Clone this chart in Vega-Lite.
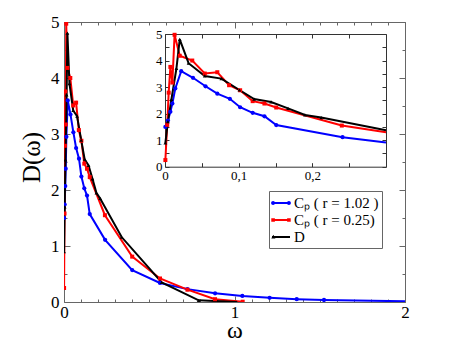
{
  "$schema": "https://vega.github.io/schema/vega-lite/v6.json",
  "width": 341,
  "height": 280,
  "autosize": "none",
  "padding": {"left": 64, "top": 22, "right": 52, "bottom": 51},
  "background": "white",
  "config": {
    "view": {"stroke": null},
    "font": "Liberation Serif",
    "axis": {"grid": false, "labelFont": "Liberation Serif", "titleFont": "Liberation Serif", "labelColor": "black", "titleColor": "black", "titleFontWeight": "normal", "labelFlush": false, "labelOverlap": false}
  },
  "datasets": {
    "curves": [
      {"series": "Cₚ ( r = 1.02 )", "w": 0.0005, "D": 1.5},
      {"series": "Cₚ ( r = 1.02 )", "w": 0.004, "D": 1.74},
      {"series": "Cₚ ( r = 1.02 )", "w": 0.0073, "D": 2.07},
      {"series": "Cₚ ( r = 1.02 )", "w": 0.010, "D": 2.38},
      {"series": "Cₚ ( r = 1.02 )", "w": 0.014, "D": 2.95},
      {"series": "Cₚ ( r = 1.02 )", "w": 0.022, "D": 3.6},
      {"series": "Cₚ ( r = 1.02 )", "w": 0.038, "D": 3.35},
      {"series": "Cₚ ( r = 1.02 )", "w": 0.055, "D": 3.03},
      {"series": "Cₚ ( r = 1.02 )", "w": 0.071, "D": 2.75},
      {"series": "Cₚ ( r = 1.02 )", "w": 0.088, "D": 2.56},
      {"series": "Cₚ ( r = 1.02 )", "w": 0.102, "D": 2.24},
      {"series": "Cₚ ( r = 1.02 )", "w": 0.119, "D": 2.03},
      {"series": "Cₚ ( r = 1.02 )", "w": 0.135, "D": 1.9},
      {"series": "Cₚ ( r = 1.02 )", "w": 0.151, "D": 1.57},
      {"series": "Cₚ ( r = 1.02 )", "w": 0.241, "D": 1.11},
      {"series": "Cₚ ( r = 1.02 )", "w": 0.40, "D": 0.57},
      {"series": "Cₚ ( r = 1.02 )", "w": 0.563, "D": 0.34},
      {"series": "Cₚ ( r = 1.02 )", "w": 0.724, "D": 0.23},
      {"series": "Cₚ ( r = 1.02 )", "w": 0.886, "D": 0.155},
      {"series": "Cₚ ( r = 1.02 )", "w": 1.046, "D": 0.108},
      {"series": "Cₚ ( r = 1.02 )", "w": 1.206, "D": 0.074},
      {"series": "Cₚ ( r = 1.02 )", "w": 1.365, "D": 0.05},
      {"series": "Cₚ ( r = 1.02 )", "w": 1.525, "D": 0.036},
      {"series": "Cₚ ( r = 1.02 )", "w": 2.05, "D": 0.01},
      {"series": "Cₚ ( r = 0.25)", "w": 0.0005, "D": 0.25},
      {"series": "Cₚ ( r = 0.25)", "w": 0.003, "D": 1.58},
      {"series": "Cₚ ( r = 0.25)", "w": 0.005, "D": 2.79},
      {"series": "Cₚ ( r = 0.25)", "w": 0.0073, "D": 3.76},
      {"series": "Cₚ ( r = 0.25)", "w": 0.010, "D": 3.17},
      {"series": "Cₚ ( r = 0.25)", "w": 0.013, "D": 4.97},
      {"series": "Cₚ ( r = 0.25)", "w": 0.020, "D": 4.18},
      {"series": "Cₚ ( r = 0.25)", "w": 0.037, "D": 4.0},
      {"series": "Cₚ ( r = 0.25)", "w": 0.054, "D": 3.51},
      {"series": "Cₚ ( r = 0.25)", "w": 0.071, "D": 3.56},
      {"series": "Cₚ ( r = 0.25)", "w": 0.087, "D": 3.07},
      {"series": "Cₚ ( r = 0.25)", "w": 0.102, "D": 2.88},
      {"series": "Cₚ ( r = 0.25)", "w": 0.119, "D": 2.47},
      {"series": "Cₚ ( r = 0.25)", "w": 0.135, "D": 2.38},
      {"series": "Cₚ ( r = 0.25)", "w": 0.151, "D": 2.23},
      {"series": "Cₚ ( r = 0.25)", "w": 0.240, "D": 1.55},
      {"series": "Cₚ ( r = 0.25)", "w": 0.40, "D": 0.81},
      {"series": "Cₚ ( r = 0.25)", "w": 0.563, "D": 0.42},
      {"series": "Cₚ ( r = 0.25)", "w": 0.724, "D": 0.22},
      {"series": "Cₚ ( r = 0.25)", "w": 0.886, "D": 0.05},
      {"series": "Cₚ ( r = 0.25)", "w": 1.048, "D": 0.005},
      {"series": "D", "w": 0.0005, "D": 0.9},
      {"series": "D", "w": 0.004, "D": 1.7},
      {"series": "D", "w": 0.0087, "D": 2.54},
      {"series": "D", "w": 0.0155, "D": 3.7},
      {"series": "D", "w": 0.020, "D": 4.8},
      {"series": "D", "w": 0.032, "D": 3.9},
      {"series": "D", "w": 0.054, "D": 3.42},
      {"series": "D", "w": 0.0765, "D": 3.32},
      {"series": "D", "w": 0.101, "D": 2.89},
      {"series": "D", "w": 0.121, "D": 2.55},
      {"series": "D", "w": 0.144, "D": 2.44},
      {"series": "D", "w": 0.167, "D": 2.2},
      {"series": "D", "w": 0.19, "D": 1.95},
      {"series": "D", "w": 0.212, "D": 1.85},
      {"series": "D", "w": 0.338, "D": 1.16},
      {"series": "D", "w": 0.573, "D": 0.35},
      {"series": "D", "w": 0.79, "D": 0.03},
      {"series": "D", "w": 1.013, "D": 0.0}
    ],
    "insetLines": [
      {"series": "Cₚ ( r = 1.02 )", "w": 0.0005, "D": 1.5},
      {"series": "Cₚ ( r = 1.02 )", "w": 0.004, "D": 1.74},
      {"series": "Cₚ ( r = 1.02 )", "w": 0.0073, "D": 2.07},
      {"series": "Cₚ ( r = 1.02 )", "w": 0.010, "D": 2.38},
      {"series": "Cₚ ( r = 1.02 )", "w": 0.014, "D": 2.95},
      {"series": "Cₚ ( r = 1.02 )", "w": 0.022, "D": 3.6},
      {"series": "Cₚ ( r = 1.02 )", "w": 0.038, "D": 3.35},
      {"series": "Cₚ ( r = 1.02 )", "w": 0.055, "D": 3.03},
      {"series": "Cₚ ( r = 1.02 )", "w": 0.071, "D": 2.75},
      {"series": "Cₚ ( r = 1.02 )", "w": 0.088, "D": 2.56},
      {"series": "Cₚ ( r = 1.02 )", "w": 0.102, "D": 2.24},
      {"series": "Cₚ ( r = 1.02 )", "w": 0.119, "D": 2.03},
      {"series": "Cₚ ( r = 1.02 )", "w": 0.135, "D": 1.9},
      {"series": "Cₚ ( r = 1.02 )", "w": 0.151, "D": 1.57},
      {"series": "Cₚ ( r = 1.02 )", "w": 0.241, "D": 1.11},
      {"series": "Cₚ ( r = 1.02 )", "w": 0.3, "D": 0.91},
      {"series": "Cₚ ( r = 0.25)", "w": 0.0005, "D": 0.25},
      {"series": "Cₚ ( r = 0.25)", "w": 0.003, "D": 1.58},
      {"series": "Cₚ ( r = 0.25)", "w": 0.005, "D": 2.79},
      {"series": "Cₚ ( r = 0.25)", "w": 0.0073, "D": 3.76},
      {"series": "Cₚ ( r = 0.25)", "w": 0.010, "D": 3.17},
      {"series": "Cₚ ( r = 0.25)", "w": 0.013, "D": 4.97},
      {"series": "Cₚ ( r = 0.25)", "w": 0.020, "D": 4.18},
      {"series": "Cₚ ( r = 0.25)", "w": 0.037, "D": 4.0},
      {"series": "Cₚ ( r = 0.25)", "w": 0.054, "D": 3.51},
      {"series": "Cₚ ( r = 0.25)", "w": 0.071, "D": 3.56},
      {"series": "Cₚ ( r = 0.25)", "w": 0.087, "D": 3.07},
      {"series": "Cₚ ( r = 0.25)", "w": 0.102, "D": 2.88},
      {"series": "Cₚ ( r = 0.25)", "w": 0.119, "D": 2.47},
      {"series": "Cₚ ( r = 0.25)", "w": 0.135, "D": 2.38},
      {"series": "Cₚ ( r = 0.25)", "w": 0.151, "D": 2.23},
      {"series": "Cₚ ( r = 0.25)", "w": 0.240, "D": 1.55},
      {"series": "Cₚ ( r = 0.25)", "w": 0.3, "D": 1.3},
      {"series": "D", "w": 0.0005, "D": 0.9},
      {"series": "D", "w": 0.004, "D": 1.7},
      {"series": "D", "w": 0.0087, "D": 2.54},
      {"series": "D", "w": 0.0155, "D": 3.7},
      {"series": "D", "w": 0.020, "D": 4.8},
      {"series": "D", "w": 0.032, "D": 3.9},
      {"series": "D", "w": 0.054, "D": 3.42},
      {"series": "D", "w": 0.0765, "D": 3.32},
      {"series": "D", "w": 0.101, "D": 2.89},
      {"series": "D", "w": 0.121, "D": 2.55},
      {"series": "D", "w": 0.144, "D": 2.44},
      {"series": "D", "w": 0.167, "D": 2.2},
      {"series": "D", "w": 0.19, "D": 1.95},
      {"series": "D", "w": 0.212, "D": 1.85},
      {"series": "D", "w": 0.3, "D": 1.37}
    ]
  },
  "layer": [
    {
      "data": {"name": "curves"},
      "encoding": {
        "x": {"field": "w", "type": "quantitative", "scale": {"domain": [0, 2]},
          "axis": {
            "values": [0,0.1,0.2,0.3,0.4,0.5,0.6,0.7,0.8,0.9,1,1.1,1.2,1.3,1.4,1.5,1.6,1.7,1.8,1.9,2],
            "tickSize": {"condition": {"test": "abs(datum.value-round(datum.value))<1e-6", "value": -6}, "value": -3},
            "labelExpr": "abs(datum.value-round(datum.value))<1e-6 ? format(datum.value,'d') : ''",
            "labelPadding": 8, "labelFontSize": 17,
            "domainColor": "#666", "tickColor": "#666",
            "title": "ω", "titleFontSize": 24, "titleY": 35, "titleBaseline": "alphabetic"
          }},
        "y": {"field": "D", "type": "quantitative", "scale": {"domain": [0, 5]},
          "axis": {
            "values": [0,0.5,1,1.5,2,2.5,3,3.5,4,4.5,5],
            "tickSize": {"condition": {"test": "abs(datum.value-round(datum.value))<1e-6", "value": -6}, "value": -3},
            "labelExpr": "abs(datum.value-round(datum.value))<1e-6 ? format(datum.value,'d') : ''",
            "labelPadding": 11, "labelFontSize": 17,
            "domainColor": "#666", "tickColor": "#666",
            "title": "D(ω)", "titleFontSize": 25, "titleX": -25, "titleY": 135, "titleBaseline": "alphabetic"
          }}
      },
      "layer": [
        {"mark": {"type": "line", "strokeWidth": 2, "clip": true},
          "encoding": {"color": {"field": "series", "type": "nominal",
            "scale": {"domain": ["Cₚ ( r = 1.02 )", "Cₚ ( r = 0.25)", "D"], "range": ["#0000ff", "#ff0000", "#000000"]},
            "legend": {
              "orient": "none", "legendX": 205, "legendY": 169, "title": null,
              "strokeColor": "#666", "fillColor": "white", "padding": 3, "rowPadding": 0,
              "labelFont": "Liberation Serif", "labelFontSize": 15, "labelColor": "black", "labelOffset": 4,
              "symbolSize": 324, "symbolType": "M-1,-0.1H1V0.1H-1Z", "symbolStrokeWidth": 0,
              "encode": {"symbols": {"update": {
                "shape": {"signal": "datum.index === 0 ? 'M-1,-0.1H1V0.1H-1Z M-1.1,0A0.22,0.22 0 1,1 -0.66,0A0.22,0.22 0 1,1 -1.1,0Z M0.66,0A0.22,0.22 0 1,1 1.1,0A0.22,0.22 0 1,1 0.66,0Z' : datum.index === 1 ? 'M-1,-0.1H1V0.1H-1Z M-1.08,-0.2H-0.68V0.2H-1.08Z M0.68,-0.2H1.08V0.2H0.68Z' : 'M-1,-0.1H1V0.1H-1Z M-0.85,-0.25L-0.62,0.16L-1.08,0.16Z'"},
                "fill": {"signal": "datum.index === 0 ? '#0000ff' : datum.index === 1 ? '#ff0000' : '#000000'"},
                "fillRule": {"value": "nonzero"},
                "stroke": {"value": "transparent"},
                "strokeWidth": {"value": 0},
                "opacity": {"value": 1}
              }}}
            }}}},
        {"transform": [{"filter": "datum.series === 'Cₚ ( r = 1.02 )'"}],
          "mark": {"type": "point", "filled": true, "shape": "circle", "color": "#0000ff", "size": 18, "opacity": 1, "clip": true}},
        {"transform": [{"filter": "datum.series === 'Cₚ ( r = 0.25)'"}],
          "mark": {"type": "point", "filled": true, "shape": "square", "color": "#ff0000", "size": 16, "opacity": 1, "clip": true}},
        {"transform": [{"filter": "datum.series === 'D'"}],
          "mark": {"type": "point", "filled": true, "shape": "triangle-up", "color": "#000000", "size": 14, "opacity": 1, "clip": true}}
      ]
    },
    {
      "data": {"name": "curves"},
      "mark": {"type": "point", "opacity": 0},
      "encoding": {
        "x": {"field": "w", "type": "quantitative", "scale": {"domain": [0, 2]},
          "axis": {"orient": "top", "labels": false, "title": null,
            "values": [0,0.1,0.2,0.3,0.4,0.5,0.6,0.7,0.8,0.9,1,1.1,1.2,1.3,1.4,1.5,1.6,1.7,1.8,1.9,2],
            "tickSize": {"condition": {"test": "abs(datum.value-round(datum.value))<1e-6", "value": -6}, "value": -3},
            "domainColor": "#666", "tickColor": "#666"}},
        "y": {"field": "D", "type": "quantitative", "scale": {"domain": [0, 5]},
          "axis": {"orient": "right", "labels": false, "title": null,
            "values": [0,0.5,1,1.5,2,2.5,3,3.5,4,4.5,5],
            "tickSize": {"condition": {"test": "abs(datum.value-round(datum.value))<1e-6", "value": -6}, "value": -3},
            "domainColor": "#666", "tickColor": "#666"}}
      }
    },
    {
      "encoding": {
        "x": {"field": "w", "type": "quantitative", "scale": {"domain": [0, 0.3], "range": [101, 322]},
          "axis": {"orient": "bottom", "offset": -135.3, "title": null,
            "values": [0,0.05,0.1,0.15,0.2,0.25],
            "tickSize": -4, "labelPadding": 7, "labelFontSize": 13,
            "labelExpr": "datum.value < 0.001 ? '0' : abs(datum.value-0.1)<0.001 ? '0,1' : abs(datum.value-0.2)<0.001 ? '0,2' : ''",
            "domainColor": "#333", "tickColor": "#333"}},
        "y": {"field": "D", "type": "quantitative", "scale": {"domain": [0, 5], "range": [144.7, 12]},
          "axis": {"orient": "left", "offset": -101, "title": null,
            "values": [0,0.5,1,1.5,2,2.5,3,3.5,4,4.5,5],
            "tickSize": -4, "labelPadding": 7, "labelFontSize": 13,
            "labelExpr": "abs(datum.value-round(datum.value))<1e-6 ? format(datum.value,'d') : ''",
            "domainColor": "#333", "tickColor": "#333"}}
      },
      "layer": [
        {"data": {"name": "insetLines"}, "mark": {"type": "line", "strokeWidth": 2},
          "encoding": {"color": {"field": "series", "type": "nominal"}}},
        {"data": {"name": "curves"}, "transform": [{"filter": "datum.w <= 0.3 && datum.series === 'Cₚ ( r = 1.02 )'"}],
          "mark": {"type": "point", "filled": true, "shape": "circle", "color": "#0000ff", "size": 18, "opacity": 1}},
        {"data": {"name": "curves"}, "transform": [{"filter": "datum.w <= 0.3 && datum.series === 'Cₚ ( r = 0.25)'"}],
          "mark": {"type": "point", "filled": true, "shape": "square", "color": "#ff0000", "size": 16, "opacity": 1}},
        {"data": {"name": "curves"}, "transform": [{"filter": "datum.w <= 0.3 && datum.series === 'D'"}],
          "mark": {"type": "point", "filled": true, "shape": "triangle-up", "color": "#000000", "size": 14, "opacity": 1}}
      ]
    },
    {
      "data": {"name": "curves"},
      "mark": {"type": "point", "opacity": 0},
      "encoding": {
        "x": {"field": "w", "type": "quantitative", "scale": {"domain": [0, 0.3], "range": [101, 322]},
          "axis": {"orient": "top", "offset": -12, "title": null, "labels": false,
            "values": [0,0.05,0.1,0.15,0.2,0.25], "tickSize": -4,
            "domainColor": "#333", "tickColor": "#333"}},
        "y": {"field": "D", "type": "quantitative", "scale": {"domain": [0, 5], "range": [144.7, 12]},
          "axis": {"orient": "right", "offset": -19, "title": null, "labels": false,
            "values": [0,0.5,1,1.5,2,2.5,3,3.5,4,4.5,5], "tickSize": -4,
            "domainColor": "#333", "tickColor": "#333"}}
      }
    }
  ],
  "resolve": {"scale": {"x": "independent", "y": "independent"}}
}
